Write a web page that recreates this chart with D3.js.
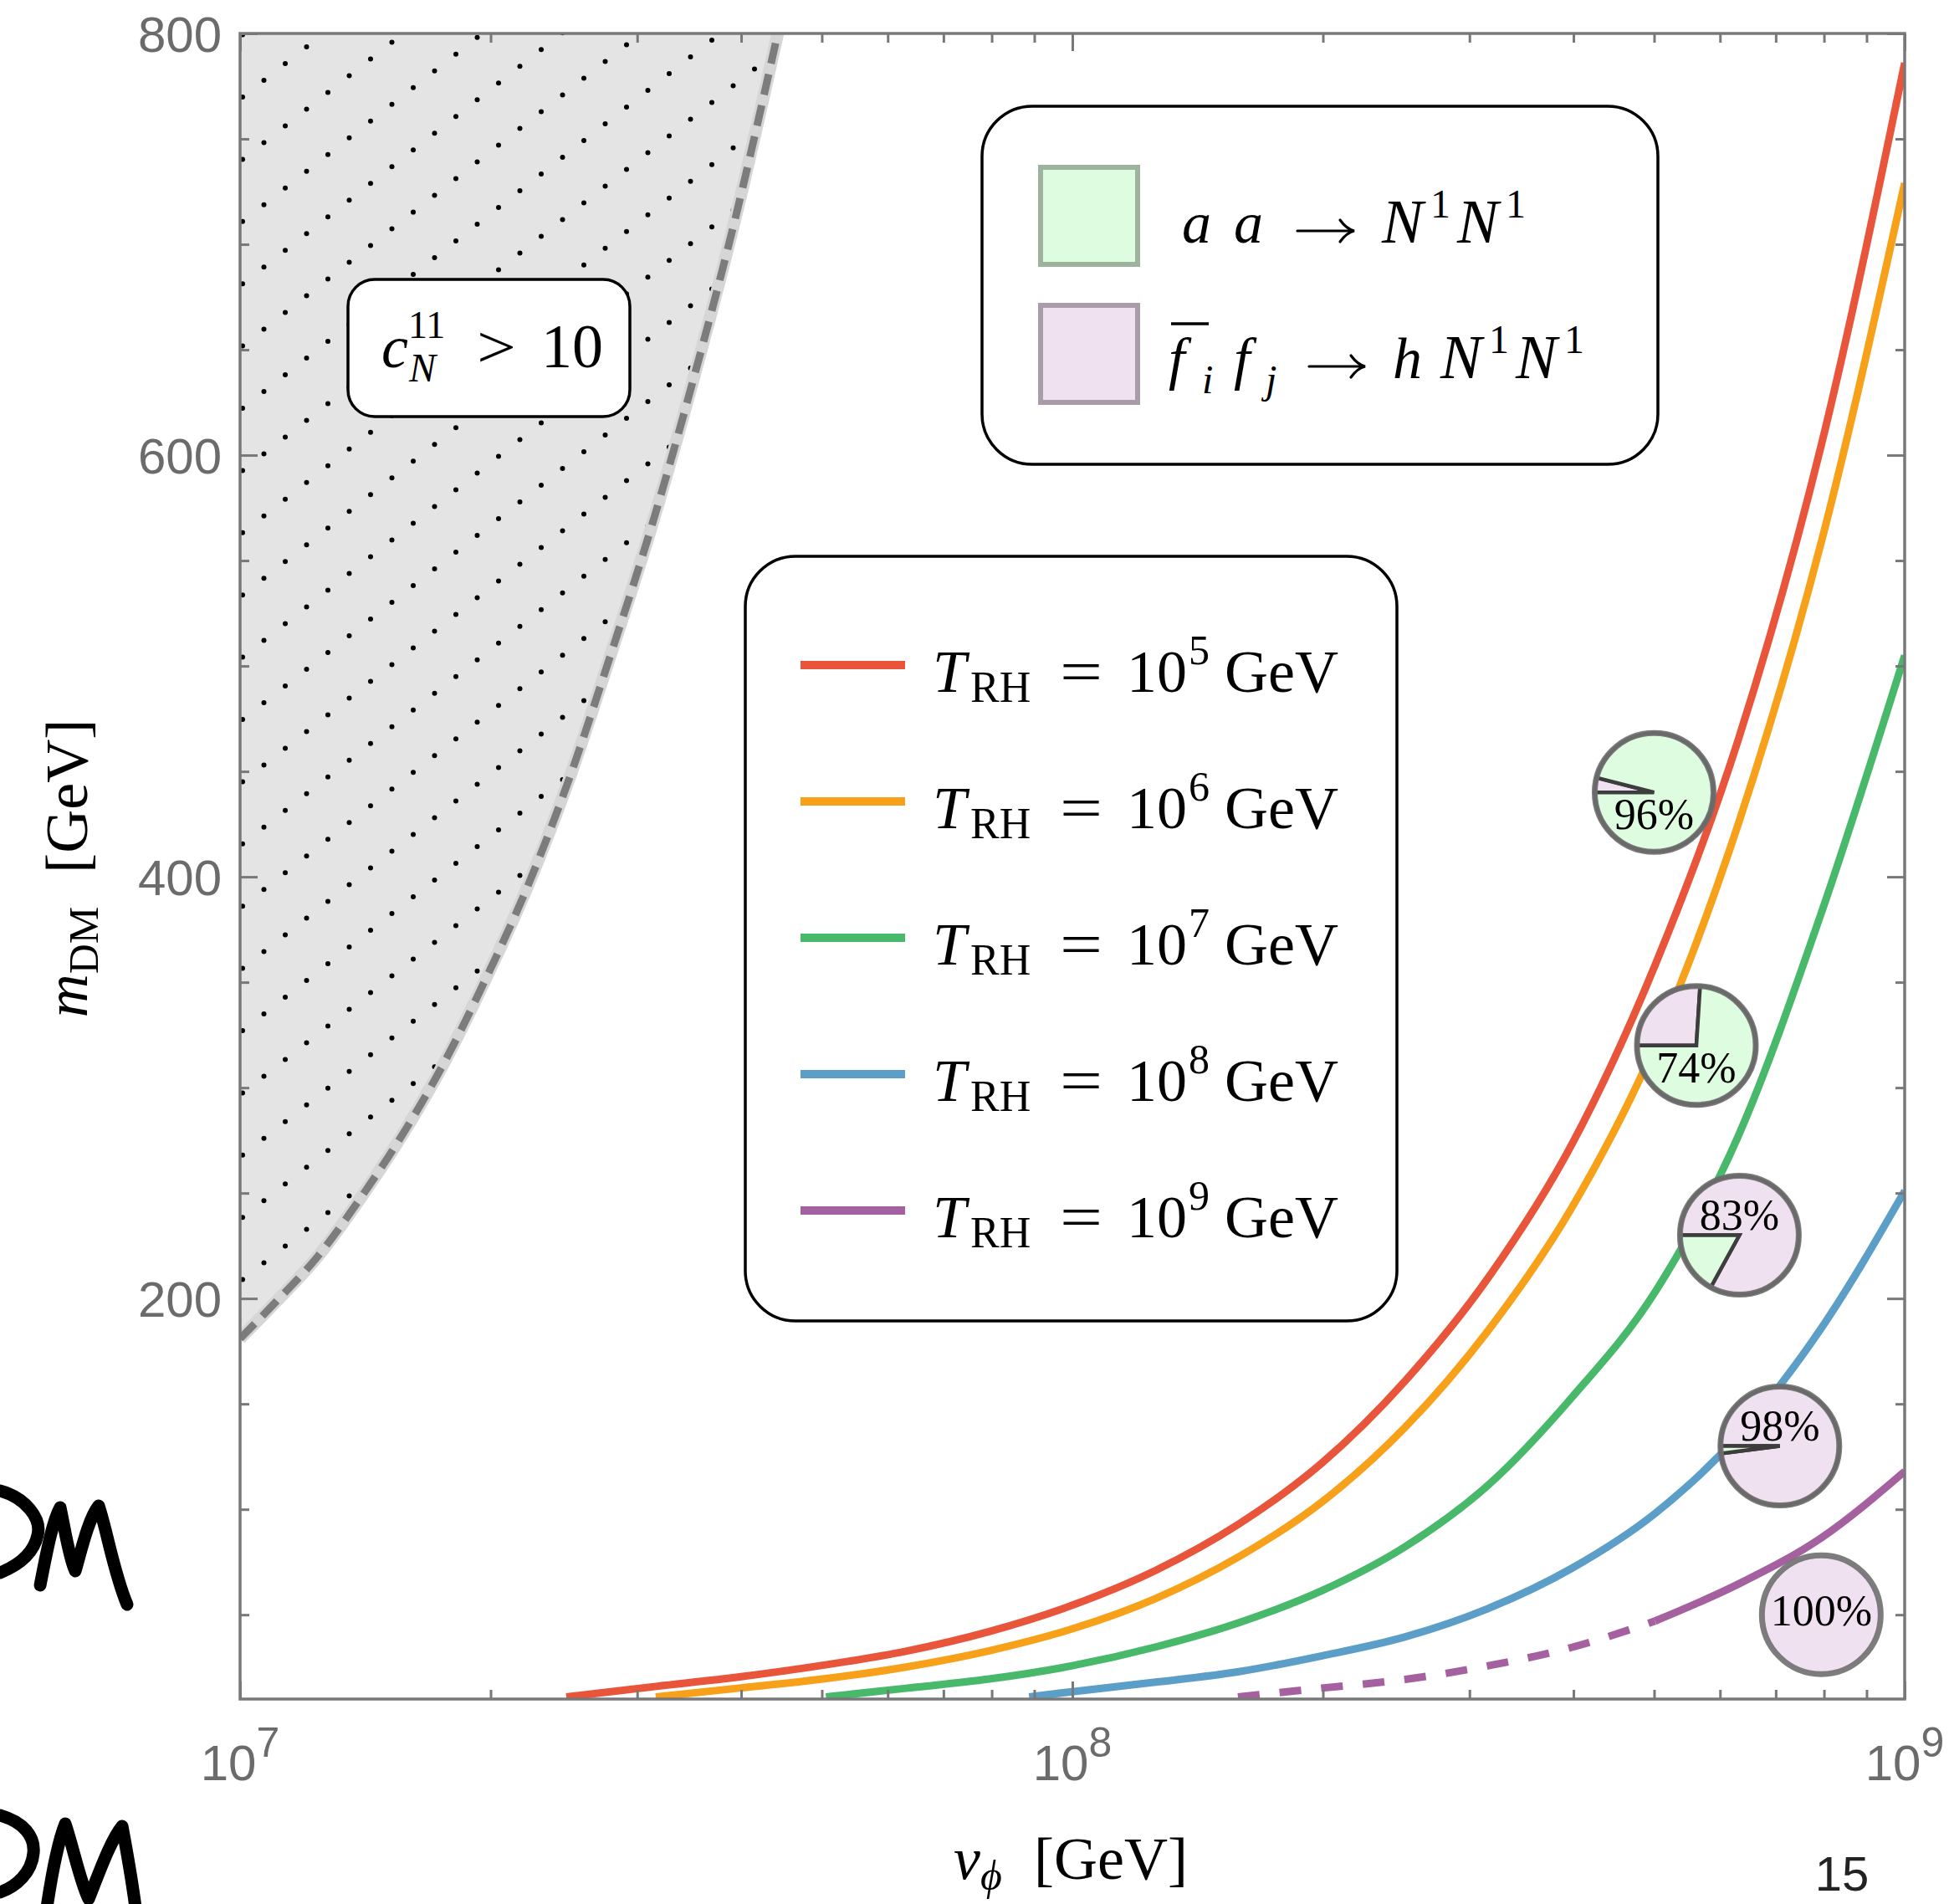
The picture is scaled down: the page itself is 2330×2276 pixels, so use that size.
<!DOCTYPE html>
<html>
<head>
<meta charset="utf-8">
<script src="https://cdn.jsdelivr.net/npm/d3@7"></script>
<style>
  body { margin: 0; background: #fff; }
  svg { display: block; }
  .serif { font-family: "Liberation Serif", "DejaVu Serif", serif; fill: #000; }
  .sans { font-family: "Liberation Sans", Arial, sans-serif; }
</style>
</head>
<body>
<div id="myChart"></div>
<script>
// ---- data ----
// excluded region boundary (c_N^11 > 10)
const vBound = [1e7, 1.105e7, 1.24e7, 1.392e7, 1.563e7, 1.754e7, 1.97e7, 2.213e7, 2.483e7, 2.786e7, 3.126e7, 3.516e7, 3.945e7, 4.426e7];
const mBound = [181, 198.5, 220, 247, 277, 311, 351, 395, 446, 505, 567, 638, 714, 800];

// T_RH = 1e5
const vRed = [2.466e7, 3.162e7, 3.981e7, 5.012e7, 6.31e7, 7.943e7, 1e8, 1.259e8, 1.585e8, 1.995e8, 2.512e8, 3.162e8, 3.981e8, 5.012e8, 6.31e8, 7.943e8, 1e9];
const mRed = [11, 16, 20.5, 26, 32.7, 42, 54.5, 71, 93, 122, 161, 210, 273, 358, 465, 605, 786];
// T_RH = 1e6
const vOrange = [3.158e7, 3.981e7, 5.012e7, 6.31e7, 7.943e7, 1e8, 1.259e8, 1.585e8, 1.995e8, 2.512e8, 3.162e8, 3.981e8, 5.012e8, 6.31e8, 7.943e8, 1e9];
const mOrange = [11, 15.2, 19.5, 25.2, 32.9, 43.3, 57.7, 77.5, 103.5, 139, 185, 243, 320, 425, 559, 729];
// T_RH = 1e7
const vGreen = [5.058e7, 6.31e7, 7.943e7, 1e8, 1.259e8, 1.585e8, 1.995e8, 2.512e8, 3.162e8, 3.981e8, 5.012e8, 6.31e8, 7.943e8, 1e9];
const mGreen = [11, 15.1, 19.5, 25.8, 34.7, 46.2, 61.4, 82.3, 111.6, 153, 203, 277, 383, 505];
// T_RH = 1e8
const vBlue = [8.872e7, 1e8, 1.259e8, 1.585e8, 1.995e8, 2.512e8, 3.162e8, 3.981e8, 5.012e8, 6.31e8, 7.943e8, 1e9];
const mBlue = [11, 13.5, 18, 23, 30.5, 39.5, 53, 72, 98, 135, 186, 251];
// T_RH = 1e9 (dashed up to vPurpleDashedUntil)
const vPurple = [1.581e8, 1.995e8, 2.512e8, 3.162e8, 3.981e8, 5.012e8, 6.31e8, 7.943e8, 1e9];
const mPurple = [11, 15.2, 19.3, 25.8, 34.5, 47, 64.5, 86.5, 118];
const vPurpleDashedUntil = 5.012e8;

const trhExp = [5, 6, 7, 8, 9];

// pie markers
const pieV = [5.0e8, 5.62e8, 6.33e8, 7.08e8, 7.94e8];
const pieM = [440, 320, 230, 130, 50];
const pinkShare = [0.04, 0.26, 0.83, 0.98, 1.0];
const pieLabels = ["96%", "74%", "83%", "98%", "100%"];

const yTickLabels = [200, 400, 600, 800];
const xTickLabels = [1e7, 1e8, 1e9];

// ---- layout ----
const W = 2330, H = 2276;
const margin = { top: 40, right: 53, bottom: 245, left: 287 };
const colors = ["#e8553a", "#f7a11a", "#48b86b", "#5b9ec8", "#a5609f"];
const greenFill = "#defde0", pinkFill = "#f0e1f0";

let svg = d3.select("#myChart").append("svg").attr("width", W).attr("height", H);

let x = d3.scaleLog().domain([1e7, 1e9]).range([margin.left, W - margin.right]);
let y = d3.scaleLinear().domain([10, 800]).range([H - margin.bottom, margin.top]);

// excluded region outline
let bound = vBound.map((v, i) => ({ v: v, m: mBound[i] }));
let boundLine = d3.line().x(d => x(d.v)).y(d => y(d.m)).curve(d3.curveMonotoneX);
let regionD = boundLine(bound) + `L${x(1e7)},${y(800)}Z`;

let defs = svg.append("defs");
defs.append("clipPath").attr("id", "plotClip").append("rect")
  .attr("x", x(1e7)).attr("y", y(800))
  .attr("width", x(1e9) - x(1e7)).attr("height", y(10) - y(800));
defs.append("clipPath").attr("id", "regionClip").append("path").attr("d", regionD);

let plot = svg.append("g").attr("clip-path", "url(#plotClip)");

plot.append("path").attr("d", regionD).attr("fill", "#e4e4e4");

// dotted hatch: rows rising to the right (step 25.5, -20), rows 74.4 apart vertically
let hatch = d3.range(0, 30).flatMap(i => d3.range(-1, 40).map(j => [290 + 25.5 * i, 116 - 20 * i + 74.4 * j]))
  .filter(p => p[1] > 20 && p[1] < 2040);
plot.append("g").attr("clip-path", "url(#regionClip)")
  .selectAll("circle").data(hatch).enter().append("circle")
  .attr("cx", d => d[0]).attr("cy", d => d[1]).attr("r", 3).attr("fill", "#000");

plot.append("path").attr("d", boundLine(bound)).attr("fill", "none")
  .attr("stroke", "#d6d6d6").attr("stroke-width", 15);
plot.append("path").attr("d", boundLine(bound)).attr("fill", "none")
  .attr("stroke", "#7c7c7c").attr("stroke-width", 9).attr("stroke-dasharray", "25,13");

// curves
let curve = d3.line().x(d => x(d.v)).y(d => y(d.m)).curve(d3.curveMonotoneX);
let series = [
  [vRed, mRed], [vOrange, mOrange], [vGreen, mGreen], [vBlue, mBlue]
];
series.forEach((s, i) => {
  let pts = s[0].map((v, j) => ({ v: v, m: s[1][j] }));
  plot.append("path").attr("d", curve(pts)).attr("fill", "none")
    .attr("stroke", colors[i]).attr("stroke-width", 9);
});
let purplePts = vPurple.map((v, j) => ({ v: v, m: mPurple[j] }));
plot.append("path").attr("d", curve(purplePts.filter(d => d.v <= vPurpleDashedUntil)))
  .attr("fill", "none").attr("stroke", colors[4]).attr("stroke-width", 9)
  .attr("stroke-dasharray", "26,24");
plot.append("path").attr("d", curve(purplePts.filter(d => d.v >= vPurpleDashedUntil)))
  .attr("fill", "none").attr("stroke", colors[4]).attr("stroke-width", 9);

// ticks (inward, on all four sides)
const axisColor = "#787878";
let xTicks = x.ticks();
let isMajorX = d => Math.abs(Math.log10(d) - Math.round(Math.log10(d))) < 1e-9;
let yTicks = d3.range(50, 801, 50);
let isMajorY = d => d % 200 === 0;

function styleTicks(g, attr, len) {
  g.select(".domain").remove();
  g.selectAll(".tick line").attr(attr, len).attr("stroke", axisColor).attr("stroke-width", 3);
}
svg.append("g").attr("transform", `translate(0,${y(10)})`)
  .call(d3.axisBottom(x).tickValues(xTicks).tickFormat(""))
  .call(g => styleTicks(g, "y2", d => isMajorX(d) ? -21 : -11));
svg.append("g").attr("transform", `translate(0,${y(800)})`)
  .call(d3.axisTop(x).tickValues(xTicks).tickFormat(""))
  .call(g => styleTicks(g, "y2", d => isMajorX(d) ? 21 : 11));
svg.append("g").attr("transform", `translate(${x(1e7)},0)`)
  .call(d3.axisLeft(y).tickValues(yTicks).tickFormat(""))
  .call(g => styleTicks(g, "x2", d => isMajorY(d) ? 21 : 11));
svg.append("g").attr("transform", `translate(${x(1e9)},0)`)
  .call(d3.axisRight(y).tickValues(yTicks).tickFormat(""))
  .call(g => styleTicks(g, "x2", d => isMajorY(d) ? -21 : -11));

svg.append("rect")
  .attr("x", x(1e7)).attr("y", y(800))
  .attr("width", x(1e9) - x(1e7)).attr("height", y(10) - y(800))
  .attr("fill", "none").attr("stroke", axisColor).attr("stroke-width", 3.5);

// tick labels
svg.selectAll(".ylab").data(yTickLabels).enter().append("text")
  .attr("class", "sans")
  .attr("x", x(1e7) - 22).attr("y", d => y(d) + 22)
  .attr("text-anchor", "end").attr("font-size", 60).attr("fill", "#6b6b6b")
  .text(d => d);

xTickLabels.forEach(v => {
  let t = svg.append("text").attr("class", "sans")
    .attr("x", x(v)).attr("y", y(10) + 97)
    .attr("text-anchor", "middle").attr("font-size", 60).attr("fill", "#6b6b6b");
  t.append("tspan").text("10");
  t.append("tspan").attr("font-size", 50).attr("dy", -28).text(Math.round(Math.log10(v)));
});

// math text helper: [x, y, size, text, italic, textLength]
function addMath(parent, parts) {
  let t = parent.append("text").attr("class", "serif");
  parts.forEach(p => {
    let s = t.append("tspan").attr("x", p[0]).attr("y", p[1]).attr("font-size", p[2]).text(p[3]);
    if (p[4]) s.attr("font-style", "italic");
    if (p[5]) s.attr("textLength", p[5]).attr("lengthAdjust", "spacingAndGlyphs");
  });
  return t;
}
// TeX-like right arrow
function addArrow(parent, x1, x2, yy) {
  parent.append("path")
    .attr("d", `M${x1},${yy}H${x2 - 2}M${x2 - 17},${yy - 13}Q${x2 - 9},${yy - 2} ${x2},${yy}Q${x2 - 9},${yy + 2} ${x2 - 17},${yy + 13}`)
    .attr("fill", "none").attr("stroke", "#000").attr("stroke-width", 3.2)
    .attr("stroke-linecap", "round");
}

// c_N^11 > 10 box
svg.append("rect").attr("x", 416).attr("y", 334).attr("width", 337).attr("height", 164)
  .attr("rx", 32).attr("fill", "#fff").attr("stroke", "#000").attr("stroke-width", 3.5);
addMath(svg, [
  [456, 439, 72, "c", 1], [488, 404, 46, "11"], [489, 456, 48, "N", 1],
  [570, 439, 72, ">", 0, 47], [647, 439, 74, "10"]
]);

// process legend
svg.append("rect").attr("x", 1174).attr("y", 127).attr("width", 808).attr("height", 428)
  .attr("rx", 60).attr("fill", "#fff").attr("stroke", "#000").attr("stroke-width", 3.5);
svg.append("rect").attr("x", 1244).attr("y", 200).attr("width", 116).attr("height", 116)
  .attr("fill", greenFill).attr("stroke", "#9db39d").attr("stroke-width", 6);
svg.append("rect").attr("x", 1244).attr("y", 365).attr("width", 116).attr("height", 116)
  .attr("fill", pinkFill).attr("stroke", "#a99ca9").attr("stroke-width", 6);
addMath(svg, [
  [1413, 290, 70, "a", 1], [1475, 290, 70, "a", 1],
  [1652, 290, 74, "N", 1], [1710, 260, 48, "1"], [1742, 290, 74, "N", 1], [1800, 260, 48, "1"]
]);
addArrow(svg, 1551, 1619, 276);
addMath(svg, [
  [1397, 452, 70, "f", 1], [1437, 470, 48, "i", 1], [1475, 452, 70, "f", 1], [1513, 470, 48, "j", 1],
  [1665, 452, 70, "h", 1], [1722, 452, 74, "N", 1],
  [1780, 422, 48, "1"], [1812, 452, 74, "N", 1], [1870, 422, 48, "1"]
]);
addArrow(svg, 1565, 1632, 438);
svg.append("line").attr("x1", 1400).attr("x2", 1445).attr("y1", 387).attr("y2", 387)
  .attr("stroke", "#000").attr("stroke-width", 3.5);

// T_RH legend
svg.append("rect").attr("x", 891).attr("y", 665).attr("width", 779).attr("height", 914)
  .attr("rx", 60).attr("fill", "#fff").attr("stroke", "#000").attr("stroke-width", 3.5);
trhExp.forEach((e, i) => {
  let ly = 795 + 163 * i;
  svg.append("line").attr("x1", 957).attr("x2", 1082).attr("y1", ly).attr("y2", ly)
    .attr("stroke", colors[i]).attr("stroke-width", 10);
  addMath(svg, [
    [1115, ly + 32, 72, "T", 1], [1160, ly + 44, 52, "RH"], [1267, ly + 32, 72, "=", 0, 51],
    [1347, ly + 32, 72, "10"], [1421, ly - 1, 50, String(e)], [1464, ly + 32, 72, "GeV"]
  ]);
});

// pie markers
let pie = d3.pie().sort(null).value(d => d).startAngle(-Math.PI / 2).endAngle(1.5 * Math.PI);
let arc = d3.arc().innerRadius(0).outerRadius(71);
pieV.forEach((v, i) => {
  let g = svg.append("g").attr("transform", `translate(${x(v)},${y(pieM[i])})`);
  let parts = pie([pinkShare[i], 1 - pinkShare[i]]).filter(p => p.value > 1e-9);
  g.selectAll("path").data(parts).enter().append("path")
    .attr("d", arc)
    .attr("fill", d => d.index === 0 ? pinkFill : greenFill)
    .attr("stroke", parts.length > 1 ? "#3d3d3d" : "none")
    .attr("stroke-width", 4.5).attr("stroke-linejoin", "miter");
  g.append("circle").attr("r", 71).attr("fill", "none")
    .attr("stroke", "#6f6f6f").attr("stroke-opacity", 0.9).attr("stroke-width", 7);
  let share = pinkShare[i];
  let dy = share < 0.5 ? 44 : (share < 1 ? -7 : 13);
  g.append("text").attr("class", "serif").attr("text-anchor", "middle")
    .attr("y", dy).attr("font-size", 52).text(pieLabels[i]);
});

// axis titles
let yt = svg.append("text").attr("class", "serif")
  .attr("transform", "translate(104,1038) rotate(-90)")
  .attr("text-anchor", "middle").attr("font-size", 72);
yt.append("tspan").attr("font-style", "italic").text("m");
yt.append("tspan").attr("font-size", 50).attr("dy", 13).text("DM");
yt.append("tspan").attr("dy", -13).attr("dx", 40).text("[GeV]");

let xt = svg.append("text").attr("class", "serif")
  .attr("x", 1280).attr("y", 2246)
  .attr("text-anchor", "middle").attr("font-size", 72);
xt.append("tspan").attr("font-style", "italic").text("v");
xt.append("tspan").attr("font-size", 50).attr("font-style", "italic").attr("dy", 13).text("\u03d5");
xt.append("tspan").attr("dy", -13).attr("dx", 38).text("[GeV]");

// page number
svg.append("text").attr("class", "sans").attr("x", 2202).attr("y", 2260)
  .attr("text-anchor", "middle").attr("font-size", 58).attr("fill", "#222").text("15");

// handwritten scribbles at the left edge
let scribbles = [
  "M0,1782 C30,1790 50,1815 45,1835 C40,1858 20,1872 0,1880",
  "M48,1895 C55,1860 62,1820 72,1802 C78,1830 82,1860 90,1878 C98,1850 106,1815 118,1800 C128,1830 136,1880 152,1918",
  "M0,2170 C28,2178 42,2195 40,2215 C38,2238 20,2255 0,2262",
  "M56,2280 C62,2240 70,2200 78,2180 C88,2210 96,2250 106,2270 C118,2240 132,2200 146,2183 C152,2215 158,2250 162,2280"
];
svg.selectAll(".scribble").data(scribbles).enter().append("path")
  .attr("d", d => d).attr("fill", "none").attr("stroke", "#000")
  .attr("stroke-width", 15).attr("stroke-linecap", "round").attr("stroke-linejoin", "round");
</script>
</body>
</html>
